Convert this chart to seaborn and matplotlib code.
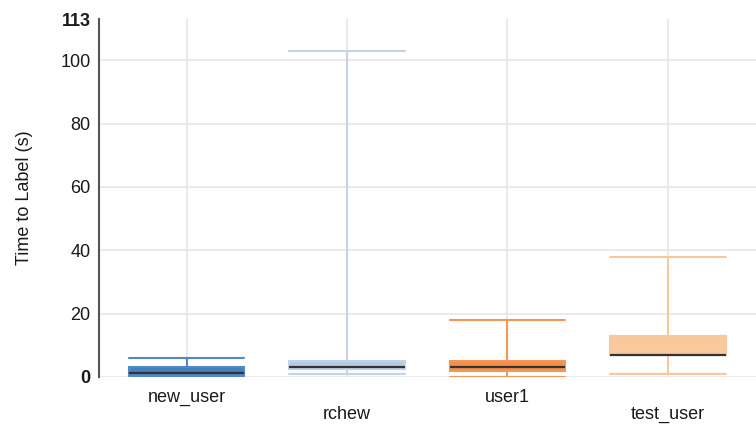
import numpy as np
import pandas as pd
import matplotlib
matplotlib.use("Agg")
import matplotlib.pyplot as plt
import seaborn as sns

# five-number summaries: min, q1, median, q3, max
users = ["new_user", "rchew", "user1", "test_user"]
new_user = [0.3, 0.6, 1.2, 3.0, 6.1]
rchew = [1.0, 2.6, 3.0, 5.0, 103.0]
user1 = [0.1, 1.8, 3.2, 5.0, 18.0]
test_user = [1.0, 6.8, 7.0, 13.0, 38.0]

fill_colors = ["#4580bd", "#b6cbe7", "#f28f4a", "#f8c99c"]
line_colors = ["#5289c2", "#c3d3ea", "#f39656", "#f9c89a"]
y_ticks = [0, 20, 40, 60, 80, 100, 113]

df = pd.DataFrame({
    "user": np.repeat(users, 5),
    "time": new_user + rchew + user1 + test_user,
})

sns.set_style("white")
plt.rcParams["font.family"] = ["Liberation Sans", "DejaVu Sans"]

fig = plt.figure(figsize=(7.56, 4.24), dpi=100)
ax = fig.add_axes([0.131, 0.111, 0.869, 0.844])

# vertical + horizontal grid
for y in y_ticks[:-1]:
    ax.axhline(y, color="#e6e6e6", lw=1.2, zorder=0)
for i in range(len(users)):
    ax.axvline(i, color="#e6e6e6", lw=1.2, zorder=0)

for i, u in enumerate(users):
    sub = df[df["user"] == u]
    sns.boxplot(
        data=sub, x="user", y="time", order=users, ax=ax,
        whis=(0, 100), width=0.72, color=fill_colors[i],
        linecolor=line_colors[i], linewidth=1.5, saturation=1,
        capwidths=0.72,
        medianprops=dict(color="#333333", linewidth=1.6),
        zorder=2,
    )

ax.set_xlim(-0.547, 3.55)
ax.set_ylim(0, 113)
ax.set_yticks(y_ticks)
ax.set_yticklabels([str(t) for t in y_ticks])
for lbl in ax.get_yticklabels():
    if lbl.get_text() in ("0", "113"):
        lbl.set_fontweight("bold")
ax.tick_params(axis="both", length=0, labelsize=13, colors="#1a1a1a")
ax.tick_params(axis="y", pad=6)

# staggered category labels
for i, tick in enumerate(ax.xaxis.get_major_ticks()):
    tick.set_pad(9 if i % 2 == 0 else 21)

ax.set_xlabel("")
ax.set_ylabel("Time to Label (s)", fontsize=13, color="#1a1a1a", labelpad=20)

for side in ["top", "right", "bottom"]:
    ax.spines[side].set_visible(False)
ax.spines["left"].set_color("#555555")
ax.spines["left"].set_linewidth(1.5)

fig.savefig("out.png", dpi=100)
